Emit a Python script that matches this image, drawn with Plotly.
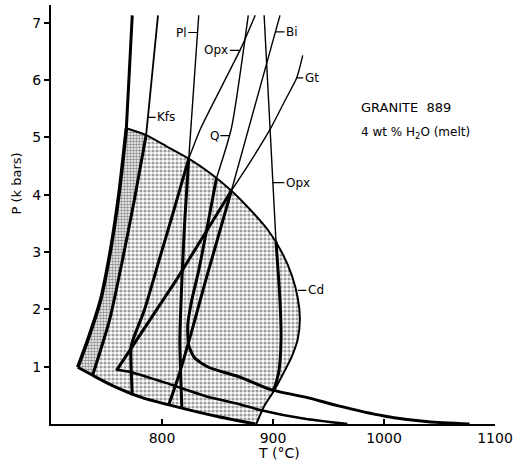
import plotly.graph_objects as go

# ---- phase boundaries, T in °C, P in kbar ----
# solidus above and inside the melt field
solidus_hi_T = [773.2, 770.5, 767.9]
solidus_hi_P = [7.13, 6.17, 5.16]
solidus_lo_T = [767.9, 761.6, 753.6, 744.6, 733.0, 724.1]
solidus_lo_P = [5.16, 4.07, 3.03, 2.16, 1.46, 0.99]

# low-pressure limb of the solidus
base_T = [724.1, 737.5, 755.4, 782.2, 815.2, 850.0, 884.0]
base_P = [0.99, 0.85, 0.67, 0.46, 0.29, 0.13, 0.0]

# upper / right limit of the melt field (4 wt% H2O isopleth, Cd)
limit_T = [767.9, 785.7, 804.5, 824.1, 843.8, 862.5, 880.4, 895.6, 908.1,
           917.0, 922.4, 924.2, 922.4, 917.0, 909.8, 900.9, 892.0, 884.9]
limit_P = [5.16, 5.04, 4.84, 4.63, 4.37, 4.07, 3.72, 3.38, 2.99,
           2.59, 2.19, 1.84, 1.49, 1.18, 0.90, 0.58, 0.31, 0.0]

# mineral-out curves: thin part outside, heavy part inside the melt field
kfs_hi_T, kfs_hi_P = [796.4, 785.7], [7.13, 5.04]
kfs_lo_T = [785.7, 775.0, 764.3, 752.7, 737.5]
kfs_lo_P = [5.04, 3.90, 2.85, 1.81, 0.85]

pl_hi_T, pl_hi_P = [833.1, 824.1], [7.13, 4.63]
pl_lo_T = [824.1, 820.5, 817.9, 816.1, 817.0, 817.9]
pl_lo_P = [4.63, 3.55, 2.50, 1.46, 0.76, 0.27]

opx1_hi_T = [884.0, 871.5, 834.9, 824.1]
opx1_hi_P = [7.13, 6.57, 5.16, 4.63]
opx1_lo_T = [824.1, 810.7, 797.3, 784.0, 772.3, 772.3, 773.2]
opx1_lo_P = [4.63, 3.73, 2.85, 1.98, 1.37, 0.92, 0.50]

q_hi_T, q_hi_P = [877.7, 862.5, 849.1], [7.13, 5.16, 4.29]
q_lo_T = [849.1, 840.2, 833.1, 826.8, 823.2, 824.1, 829.5, 842.0, 871.5,
          898.0, 931.0, 958.0, 1000.0, 1040.0, 1077.0]
q_lo_P = [4.29, 3.38, 2.68, 2.16, 1.72, 1.37, 1.15, 0.99, 0.81,
          0.60, 0.46, 0.32, 0.14, 0.04, 0.0]

bi_hi_T, bi_hi_P = [906.3, 862.5], [7.13, 4.07]
bi_lo_T = [862.5, 839.3, 826.8, 815.2, 806.0]
bi_lo_P = [4.07, 2.50, 1.62, 0.85, 0.33]

gt_hi_T = [926.8, 921.4, 910.7, 898.2, 880.4, 862.5]
gt_hi_P = [6.43, 6.04, 5.64, 5.17, 4.60, 4.07]
gt_lo_T = [862.5, 812.5, 758.9]
gt_lo_P = [4.07, 2.50, 0.93]

low_T = [758.9, 773.2, 806.3, 842.0, 868.8, 889.3, 928.6, 967.0]
low_P = [0.95, 0.90, 0.70, 0.47, 0.35, 0.24, 0.09, 0.0]

opx2_hi_T, opx2_hi_P = [892.0, 902.7], [7.13, 3.18]
opx2_lo_T = [902.7, 906.3, 907.2, 905.4, 901.0, 898.5]
opx2_lo_P = [3.18, 2.16, 1.46, 0.93, 0.62, 0.58]

# curve labels: text, point on curve (T, P), horizontal offset in px
labels = [
    ("Pl", 831.8, 6.83, -16),
    ("Opx", 870.5, 6.52, -24),
    ("Kfs", 786.6, 5.35, 19),
    ("Q", 860.7, 5.03, -15),
    ("Bi", 901.8, 6.84, 17),
    ("Gt", 921.4, 6.04, 15),
    ("Opx", 899.9, 4.21, 25),
    ("Cd", 922.4, 2.33, 18),
]

FONT = "DejaVu Sans"
fig = go.Figure()

# stippled melt field
field_T = limit_T + base_T[::-1] + solidus_lo_T[::-1]
field_P = limit_P + base_P[::-1] + solidus_lo_P[::-1]
fig.add_trace(go.Scatter(
    x=field_T, y=field_P, mode="lines", fill="toself",
    line=dict(width=0), fillcolor="rgba(0,0,0,0)",
    fillpattern=dict(shape=".", fgcolor="#3a3a3a", bgcolor="white",
                     size=4, solidity=0.5),
    hoverinfo="skip", showlegend=False))

# denser stipple between solidus and Kfs-out
strip_T = solidus_lo_T + [base_T[1]] + kfs_lo_T[::-1]
strip_P = solidus_lo_P + [base_P[1]] + kfs_lo_P[::-1]
fig.add_trace(go.Scatter(
    x=strip_T, y=strip_P, mode="lines", fill="toself",
    line=dict(width=0), fillcolor="rgba(0,0,0,0)",
    fillpattern=dict(shape=".", fgcolor="#222222", bgcolor="white",
                     size=3, solidity=0.6),
    hoverinfo="skip", showlegend=False))


def curve(T, P, width, smooth=True):
    fig.add_trace(go.Scatter(
        x=T, y=P, mode="lines",
        line=dict(color="black", width=width,
                  shape="spline" if smooth else "linear", smoothing=0.6),
        hoverinfo="skip", showlegend=False))


thin, heavy = 1.4, 3.0
curve(limit_T, limit_P, 2.0)
curve(base_T, base_P, 3.0)
curve(low_T, low_P, 2.6)
curve(kfs_hi_T, kfs_hi_P, 1.8, False)
curve(kfs_lo_T, kfs_lo_P, heavy)
curve(pl_hi_T, pl_hi_P, thin, False)
curve(pl_lo_T, pl_lo_P, heavy)
curve(opx1_hi_T, opx1_hi_P, thin)
curve(opx1_lo_T, opx1_lo_P, heavy)
curve(q_hi_T, q_hi_P, thin)
curve(q_lo_T, q_lo_P, heavy)
curve(bi_hi_T, bi_hi_P, thin, False)
curve(bi_lo_T, bi_lo_P, heavy)
curve(gt_hi_T, gt_hi_P, thin)
curve(gt_lo_T, gt_lo_P, heavy, False)
curve(opx2_hi_T, opx2_hi_P, thin, False)
curve(opx2_lo_T, opx2_lo_P, heavy)
curve(solidus_hi_T, solidus_hi_P, 3.0, False)
curve(solidus_lo_T, solidus_lo_P, 3.6)

annotations = []
for text, t, p, dx in labels:
    annotations.append(dict(
        x=t, y=p, xref="x", yref="y", text=text, showarrow=True,
        arrowhead=0, arrowwidth=1.2, arrowcolor="black", ax=dx, ay=0,
        standoff=0, font=dict(family=FONT, size=12, color="black")))

annotations += [
    dict(x=977.7, y=5.52, xref="x", yref="y", xanchor="left",
         yanchor="middle", text="GRANITE  889", showarrow=False,
         font=dict(family=FONT, size=13, color="black")),
    dict(x=977.7, y=5.07, xref="x", yref="y", xanchor="left",
         yanchor="middle", text="4 wt % H<sub>2</sub>O (melt)",
         showarrow=False, font=dict(family=FONT, size=12, color="black")),
    dict(x=-0.078, y=0.575, xref="paper", yref="paper", textangle=-90,
         xanchor="center", yanchor="middle",
         text="P (k bars)", showarrow=False,
         font=dict(family=FONT, size=13, color="black")),
    dict(x=0.513, y=-0.07, xref="paper", yref="paper",
         xanchor="center", yanchor="middle",
         text="T (°C)", showarrow=False,
         font=dict(family=FONT, size=14, color="black")),
]

fig.update_layout(
    width=518, height=468,
    margin=dict(l=51, r=19, t=5, b=44),
    paper_bgcolor="white", plot_bgcolor="white",
    annotations=annotations,
    font=dict(family=FONT, color="black"),
)
fig.update_xaxes(
    range=[700, 1100], tickvals=[800, 900, 1000, 1100],
    ticks="inside", ticklen=5, tickcolor="black", tickwidth=1.5,
    showline=True, linecolor="black", linewidth=2,
    showgrid=False, zeroline=False,
    tickfont=dict(family=FONT, size=14, color="black"))
fig.update_yaxes(
    range=[0, 7.31], tickvals=[1, 2, 3, 4, 5, 6, 7],
    ticks="outside", ticklen=5, tickcolor="black", tickwidth=1.5,
    showline=True, linecolor="black", linewidth=2,
    showgrid=False, zeroline=False,
    tickfont=dict(family=FONT, size=14, color="black"))

fig.write_html("out.html")
